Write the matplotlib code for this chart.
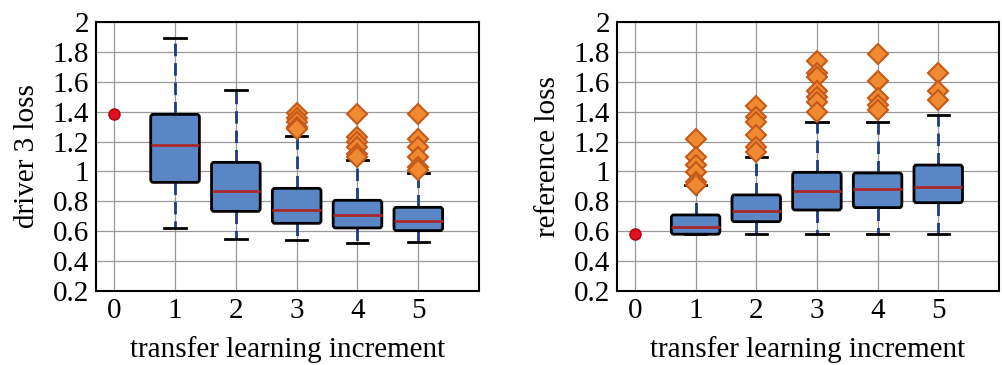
import matplotlib
matplotlib.use("Agg")
import matplotlib.pyplot as plt
from matplotlib.patches import FancyBboxPatch

plt.rcParams['font.family'] = ['Liberation Serif', 'DejaVu Serif']
plt.rcParams['font.size'] = 21

positions = [1, 2, 3, 4, 5]
xticks = [0, 1, 2, 3, 4, 5]

# driver 3 loss: (low whisker, q1, median, q3, high whisker)
drv_low = [0.622, 0.550, 0.541, 0.524, 0.526]
drv_q1 = [0.927, 0.733, 0.653, 0.622, 0.604]
drv_med = [1.177, 0.867, 0.742, 0.707, 0.667]
drv_q3 = [1.382, 1.061, 0.887, 0.807, 0.760]
drv_high = [1.895, 1.543, 1.240, 1.075, 0.992]
drv_fliers = [[], [], [1.389, 1.36, 1.33, 1.30, 1.285],
              [1.384, 1.233, 1.20, 1.166, 1.12, 1.10],
              [1.384, 1.215, 1.166, 1.099, 1.032, 1.01]]
drv_base = 1.384

# reference loss
ref_low = [0.580, 0.580, 0.580, 0.580, 0.580]
ref_q1 = [0.580, 0.664, 0.742, 0.758, 0.791]
ref_med = [0.631, 0.736, 0.867, 0.880, 0.896]
ref_q3 = [0.709, 0.843, 0.994, 0.990, 1.043]
ref_high = [0.909, 1.097, 1.331, 1.331, 1.380]
ref_fliers = [[1.215, 1.099, 1.043, 0.999, 0.932, 0.91],
              [1.438, 1.367, 1.333, 1.244, 1.166, 1.133],
              [1.739, 1.657, 1.63, 1.541, 1.50, 1.467, 1.40],
              [1.786, 1.605, 1.489, 1.445, 1.411],
              [1.657, 1.541, 1.478]]
ref_base = 0.58

box_blue = '#5b86c5'
med_red = '#a8282c'
whisk_blue = '#1f3a80'
fl_fill = '#f08a32'
fl_edge = '#c55a18'


def draw(ax, low, q1, med, q3, high, fliers, base, ylabel):
    stats = []
    for i in range(len(positions)):
        stats.append(dict(whislo=low[i], q1=q1[i], med=med[i], q3=q3[i],
                          whishi=high[i], fliers=fliers[i]))
    res = ax.bxp(stats, positions=positions, widths=0.8, capwidths=0.35,
                 patch_artist=True,
                 boxprops=dict(facecolor=box_blue, edgecolor='black', linewidth=2),
                 medianprops=dict(color=med_red, linewidth=2),
                 whiskerprops=dict(color=whisk_blue, linewidth=2, linestyle=(0, (4.5, 2.5))),
                 capprops=dict(color='black', linewidth=2),
                 flierprops=dict(marker='D', markersize=10, markerfacecolor=fl_fill,
                                 markeredgecolor=fl_edge, markeredgewidth=1.5))
    # rounded box corners
    for b in res['boxes']:
        b.set_visible(False)
    for i, p in enumerate(positions):
        fb = FancyBboxPatch((p - 0.4, q1[i]), 0.8, q3[i] - q1[i],
                            boxstyle='round,pad=0,rounding_size=0.04',
                            mutation_aspect=0.5,
                            facecolor=box_blue, edgecolor='black', linewidth=2, zorder=2)
        ax.add_patch(fb)
    for m in res['medians']:
        m.set_zorder(3)
    ax.plot([0], [base], 'o', color='#e0101e', markeredgecolor='#b00010',
            markersize=8, zorder=4)
    ax.set_xlim(-0.3, 6.0)
    ax.set_ylim(0.2, 2.0)
    ax.set_xticks(xticks)
    ax.set_xticklabels([str(t) for t in xticks])
    ax.set_yticks([0.2, 0.4, 0.6, 0.8, 1.0, 1.2, 1.4, 1.6, 1.8, 2.0])
    ax.set_yticklabels(['0.2', '0.4', '0.6', '0.8', '1', '1.2', '1.4', '1.6', '1.8', '2'])
    ax.tick_params(length=0, pad=5)
    ax.grid(True, color='#999999', linewidth=0.9)
    ax.set_axisbelow(True)
    for s in ax.spines.values():
        s.set_linewidth(1.5)
    ax.set_xlabel('transfer learning increment', labelpad=9)
    ax.set_ylabel(ylabel, labelpad=9)


fig = plt.figure(figsize=(10.03, 3.65), dpi=100)
ax1 = fig.add_axes([0.0957, 0.2027, 0.382, 0.737])
ax2 = fig.add_axes([0.6149, 0.2027, 0.381, 0.737])
draw(ax1, drv_low, drv_q1, drv_med, drv_q3, drv_high, drv_fliers, drv_base, 'driver 3 loss')
draw(ax2, ref_low, ref_q1, ref_med, ref_q3, ref_high, ref_fliers, ref_base, 'reference loss')
fig.savefig('out.png', dpi=100)
